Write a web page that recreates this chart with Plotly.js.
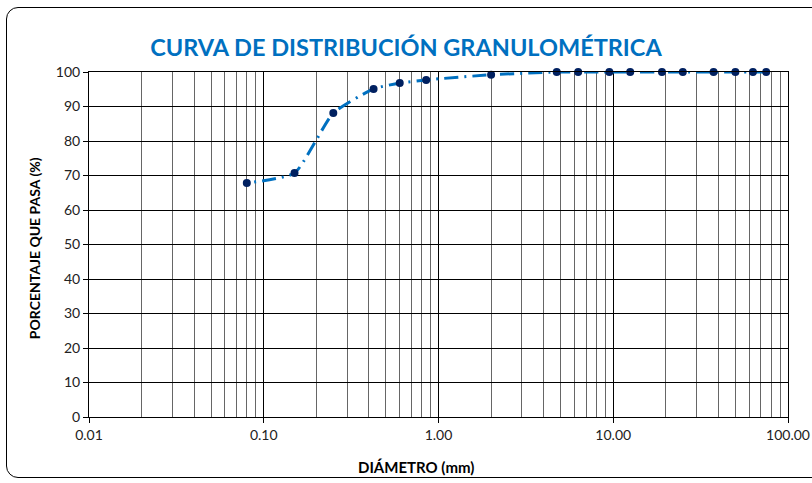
<!DOCTYPE html>
<html>
<head>
<meta charset="utf-8">
<script src="https://cdn.plot.ly/plotly-3.0.1.min.js"></script>
<style>
html,body{margin:0;padding:0;background:#fff;overflow:hidden;}
#frame{position:absolute;left:6px;top:7px;width:840px;height:471px;border:1.5px solid #000;border-radius:12px;box-sizing:border-box;}
#chart{position:absolute;left:0;top:0;width:812px;height:483px;}
</style>
</head>
<body>
<div id="frame"></div>
<div id="chart"></div>
<script>
var diametros = [75, 63, 50, 37.5, 25, 19, 12.5, 9.5, 6.3, 4.75, 2.0, 0.85, 0.6, 0.425, 0.25, 0.15, 0.08];
var pasa =      [100, 100, 100, 100, 100, 100, 100, 100, 100, 100, 99.2, 97.7, 96.8, 95.1, 88.1, 70.7, 67.8];
var xTickVals = [0.01, 0.1, 1, 10, 100];
var xTickText = ["0.01", "0.10", "1.00", "10.00", "100.00"];
var yTickVals = [0, 10, 20, 30, 40, 50, 60, 70, 80, 90, 100];
var titulo = "CURVA DE DISTRIBUCIÓN GRANULOMÉTRICA";
var tituloX = "DIÁMETRO (mm)";
var tituloY = "PORCENTAJE QUE PASA (%)";

var minorVals = [];
[0.01, 0.1, 1, 10].forEach(function(d){ for (var k = 2; k <= 9; k++) minorVals.push(+(d*k).toPrecision(3)); });

var fontT = "Lato, 'Open Sans', sans-serif";

var trace = {
  x: diametros, y: pasa,
  type: 'scatter', mode: 'lines+markers',
  line: {color: '#0070C0', width: 3, dash: '14px,6px,2px,6px', shape: 'spline', smoothing: 0.5},
  marker: {color: '#002060', size: 8},
  cliponaxis: false, hoverinfo: 'skip'
};

var layout = {
  width: 812, height: 483,
  margin: {l: 89, r: 24, t: 72, b: 66},
  paper_bgcolor: 'rgba(0,0,0,0)', plot_bgcolor: '#fff',
  showlegend: false,
  title: {text: '<b>' + titulo + '</b>', font: {family: fontT, size: 23.5, color: '#0070C0'}, x: 0.4535, xanchor: 'center', xref: 'paper', y: 0.902, yanchor: 'middle'},
  xaxis: {
    type: 'log', range: [-2, 2], tickmode: 'array', tickvals: xTickVals, ticktext: xTickText,
    showgrid: true, gridcolor: '#000', gridwidth: 1,
    ticks: 'outside', ticklen: 5, tickcolor: '#000',
    minor: {tickmode: 'array', tickvals: minorVals, showgrid: true, gridcolor: '#666', gridwidth: 1, ticks: ''},
    showline: true, linecolor: '#000', linewidth: 1, mirror: true, zeroline: false,
    tickfont: {family: fontT, size: 14, color: '#222'}
  },
  yaxis: {
    range: [0, 100], tickmode: 'array', tickvals: yTickVals,
    showgrid: true, gridcolor: '#000', gridwidth: 1,
    ticks: 'outside', ticklen: 5, tickcolor: '#000',
    showline: true, linecolor: '#000', linewidth: 1, mirror: true, zeroline: false,
    tickfont: {family: fontT, size: 14, color: '#222'}
  },
  annotations: [{
    text: '<b>' + tituloX + '</b>', xref: 'paper', yref: 'paper', x: 0.468, y: -0.145,
    xanchor: 'center', yanchor: 'middle', showarrow: false,
    font: {family: fontT, size: 15, color: '#000'}
  }, {
    text: '<b>' + tituloY + '</b>', xref: 'paper', yref: 'paper', x: -0.077, y: 0.49,
    xanchor: 'center', yanchor: 'middle', showarrow: false, textangle: -90,
    font: {family: fontT, size: 14, color: '#000'}
  }]
};

Plotly.newPlot('chart', [trace], layout, {displayModeBar: false, staticPlot: true});
</script>
</body>
</html>
